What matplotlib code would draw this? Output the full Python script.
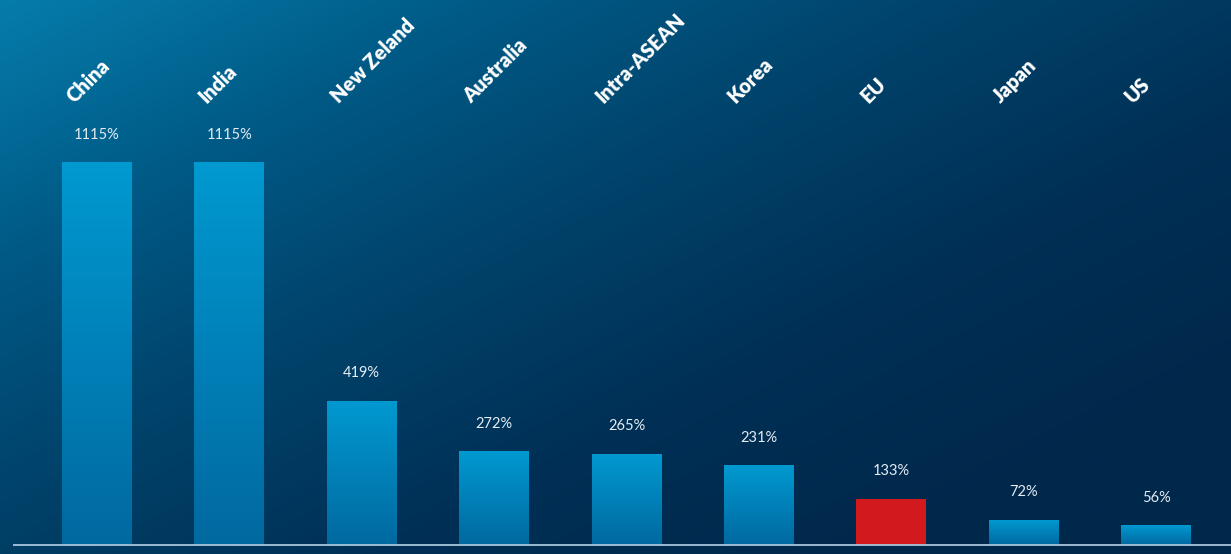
import numpy as np
import matplotlib.pyplot as plt
from matplotlib.colors import LinearSegmentedColormap

categories = ['China', 'India', 'New Zeland', 'Australia', 'Intra-ASEAN',
              'Korea', 'EU', 'Japan', 'US']
growth = [1115, 1115, 419, 272, 265, 231, 133, 72, 56]
labels = ['1115%', '1115%', '419%', '272%', '265%', '231%', '133%', '72%', '56%']
highlight = 'EU'

W, H = 1231, 554
fig = plt.figure(figsize=(W / 100, H / 100), dpi=100)

# diagonal background gradient
bg = fig.add_axes([0, 0, 1, 1])
bg.set_axis_off()
yy, xx = np.mgrid[0:1:200j, 0:1:400j]
t = np.clip(0.62 * xx * (W / H) / 2.2 + 0.55 * yy, 0, 1)
bg_cmap = LinearSegmentedColormap.from_list(
    'bg', ['#067cab', '#005a86', '#00426a', '#002f55', '#00284b'])
bg.imshow(t, cmap=bg_cmap, aspect='auto', extent=[0, 1, 0, 1], origin='upper')
bg.set_xlim(0, 1)
bg.set_ylim(0, 1)

ax = fig.add_axes([0, 0, 1, 1])
ax.patch.set_alpha(0)
ax.set_axis_off()

step = 132.4
px_per_unit = 382 / 1115
ax.set_xlim(-97 / step, (W - 97) / step)
ax.set_ylim(-(H - 545) / px_per_unit, 545 / px_per_unit)

bar_cmap = LinearSegmentedColormap.from_list('bar', ['#0069a0', '#0099d0'])
grad = np.linspace(0, 1, 100).reshape(-1, 1)
width = 70 / step
x = np.arange(len(categories))

bars = ax.bar(x, growth, width=width, color='none', edgecolor='none')
for b, cat, lab in zip(bars, categories, labels):
    x0, w, h = b.get_x(), b.get_width(), b.get_height()
    if cat == highlight:
        b.set_facecolor('#d2191e')
    else:
        ax.imshow(grad, cmap=bar_cmap, aspect='auto', origin='lower',
                  extent=[x0, x0 + w, 0, h], zorder=2)
    ax.text(x0 + w / 2, h + 28 / px_per_unit, lab, ha='center', va='center',
            color='#e4edf4', fontsize=10.5, family='Lato', zorder=5)

# rotated category names along the top
for xi, cat in zip(x, categories):
    ax.text(xi - 23 / step, (545 - 104) / px_per_unit, cat, rotation=45,
            rotation_mode='anchor', ha='left', va='baseline', color='white',
            fontsize=14.5, family='Lato', fontweight='heavy', zorder=5)

ax.plot([(13 - 97) / step, (W - 97) / step], [0, 0], color='#a8c6dc',
        lw=1.3, zorder=3, solid_capstyle='butt')

fig.savefig('out.png', dpi=100)
